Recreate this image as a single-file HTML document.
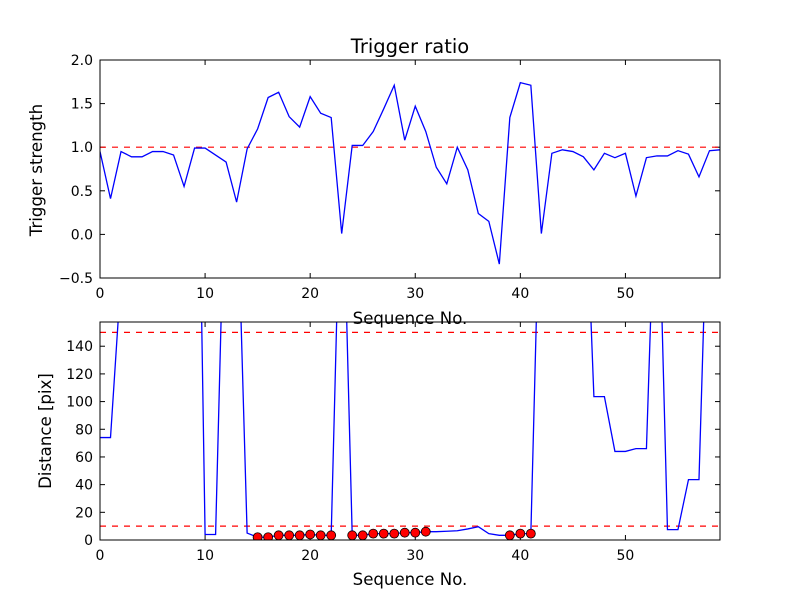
<!DOCTYPE html>
<html><head><meta charset="utf-8"><style>
body{margin:0;background:#fff}
svg text{font-family:"DejaVu Sans","Liberation Sans",sans-serif;fill:#000}
</style></head><body>
<svg id="c" width="800" height="600" viewBox="0 0 800 600">
<defs>
<clipPath id="clipTop"><rect x="100" y="60" width="620" height="218"/></clipPath>
<clipPath id="clipBot"><rect x="100" y="322" width="620" height="218"/></clipPath>
</defs>
<rect width="800" height="600" fill="#fff"/>
<text x="410" y="53" font-size="19.5" text-anchor="middle">Trigger ratio</text>
</svg>
<script>
const ratio=[0.95,0.41,0.95,0.89,0.89,0.95,0.95,0.91,0.55,0.99,0.99,0.91,0.83,0.37,0.98,1.21,1.57,1.63,1.35,1.23,1.58,1.39,1.34,0.01,1.02,1.02,1.18,1.44,1.71,1.08,1.47,1.18,0.77,0.58,1.00,0.74,0.24,0.15,-0.34,1.34,1.74,1.71,0.01,0.93,0.97,0.95,0.89,0.74,0.93,0.88,0.93,0.44,0.88,0.90,0.90,0.96,0.92,0.66,0.96,0.97];
const dist=[74,74,190,300,300,300,300,300,300,480,4,4,300,270,5,2,2,3.4,3.4,3.4,4,3.4,3.4,300,3.4,3.4,4.6,4.6,4.6,5.3,5.3,6,6,6.3,6.7,8,9.6,4.6,3.4,3.4,4.6,4.6,300,300,300,300,300,103.6,103.6,64,64,66,66,300,7.5,7.5,43.6,43.6,300,300];
const marked=[15,16,17,18,19,20,21,22,24,25,26,27,28,29,30,31,39,40,41];
const xTicks=[0,10,20,30,40,50];
const topYTicks=[-0.5,0.0,0.5,1.0,1.5,2.0];
const botYTicks=[0,20,40,60,80,100,120,140];
const topThresh=[1.0];
const botThresh=[10,150];

const NS='http://www.w3.org/2000/svg';
const svg=document.getElementById('c');
function el(t,a,p){const e=document.createElementNS(NS,t);for(const k in a)e.setAttribute(k,a[k]);(p||svg).appendChild(e);return e;}
const X0=100,X1=720,XMIN=0,XMAX=59;
const xs=v=>X0+(v-XMIN)/(XMAX-XMIN)*(X1-X0);
function panel(top,bot,ymin,ymax,yticks,fmt,name){
  const ys=v=>bot-(v-ymin)/(ymax-ymin)*(bot-top);
  const g=el('g',{});
  
  
  xTicks.forEach(t=>{
    const x=xs(t);
    const a=el('line',{x1:x,x2:x,y1:bot,y2:bot-5,stroke:'#000'},g);
    
    el('line',{x1:x,x2:x,y1:top,y2:top+5,stroke:'#000'},g);
    const tx=el('text',{x:x,y:bot+20,'font-size':14,'text-anchor':'middle'},g);tx.textContent=t;
    
  });
  yticks.forEach(t=>{
    const y=ys(t);
    el('line',{x1:X0,x2:X0+5,y1:y,y2:y,stroke:'#000'},g);
    el('line',{x1:X1,x2:X1-5,y1:y,y2:y,stroke:'#000'},g);
    const tx=el('text',{x:X0-7,y:y+5,'font-size':14,'text-anchor':'end'},g);tx.textContent=fmt(t);
    
  });
  return {ys,g};
}
const T=panel(60,278,-0.5,2.0,topYTicks,v=>v.toFixed(1).replace('-','\u2212'),'top-panel');
topThresh.forEach(v=>{const l=el('line',{x1:X0,x2:X1,y1:T.ys(v),y2:T.ys(v),stroke:'#f00','stroke-dasharray':'6,6','stroke-width':1.2});
});
const p1=el('polyline',{points:ratio.map((v,i)=>xs(i)+','+T.ys(v)).join(' '),fill:'none',stroke:'#00f','stroke-width':1.3,'clip-path':'url(#clipTop)'});

el('rect',{x:X0,y:60,width:620,height:218,fill:'none',stroke:'#000'});
let t1=el('text',{x:410,y:324,'font-size':16.6,'text-anchor':'middle'});t1.textContent='Sequence No.';

let t2=el('text',{x:0,y:0,'font-size':16.6,'text-anchor':'middle',transform:'translate(42,170) rotate(-90)'});t2.textContent='Trigger strength';

const B=panel(322,540,0,157.5,botYTicks,v=>v,'bottom-panel');
botThresh.forEach(v=>{const l=el('line',{x1:X0,x2:X1,y1:B.ys(v),y2:B.ys(v),stroke:'#f00','stroke-dasharray':'6,6','stroke-width':1.2});
});
const p2=el('polyline',{points:dist.map((v,i)=>xs(i)+','+B.ys(v)).join(' '),fill:'none',stroke:'#00f','stroke-width':1.3,'clip-path':'url(#clipBot)'});

marked.forEach(i=>{const c=el('circle',{cx:xs(i),cy:B.ys(dist[i]),r:4.5,fill:'#f00',stroke:'#000','stroke-width':0.8,'clip-path':'url(#clipBot)'});
});
el('rect',{x:X0,y:322,width:620,height:218,fill:'none',stroke:'#000'});
let t3=el('text',{x:410,y:585,'font-size':16.6,'text-anchor':'middle'});t3.textContent='Sequence No.';

let t4=el('text',{x:0,y:0,'font-size':16.6,'text-anchor':'middle',transform:'translate(51,431) rotate(-90)'});t4.textContent='Distance [pix]';

</script>
</body></html>
